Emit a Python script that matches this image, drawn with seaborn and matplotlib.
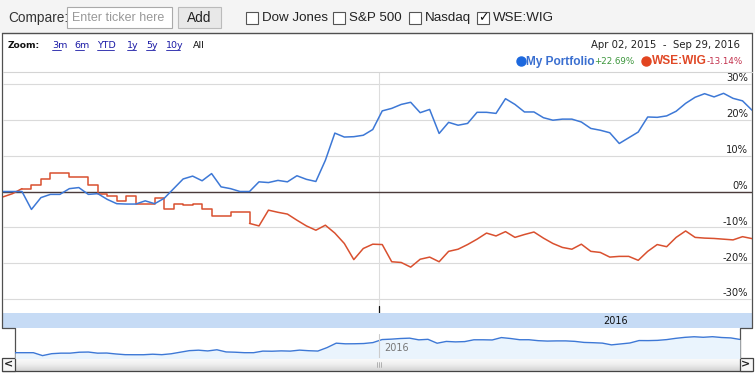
import numpy as np
import pandas as pd
import matplotlib
matplotlib.use('Agg')
import matplotlib.pyplot as plt
import seaborn as sns
from matplotlib.patches import Rectangle
from matplotlib.colors import LinearSegmentedColormap

# weekly samples, Apr 02 2015 - Sep 29 2016
start_date = '2015-04-02'
end_date = '2016-09-29'
n_points = 80

# My Portfolio, % change
portfolio = [0.0, 0.0, 0.0, -5.0, -1.7, -0.8, -0.8, 0.8, 1.1, -0.8,
             -0.6, -2.2, -3.4, -3.5, -3.5, -2.6, -3.4, -1.9, 0.8, 3.5,
             4.3, 3.0, 5.0, 1.3, 0.8, 0.0, 0.0, 2.7, 2.5, 3.1,
             2.7, 4.4, 3.4, 2.8, 8.7, 16.3, 15.2, 15.3, 15.7, 17.3,
             22.5, 23.2, 24.3, 24.9, 22.0, 22.9, 16.2, 19.3, 18.5, 19.0,
             22.1, 22.1, 21.8, 25.9, 24.3, 22.2, 22.2, 20.6, 19.9, 20.2,
             20.2, 19.4, 17.6, 17.1, 16.4, 13.4, 15.0, 16.6, 20.8, 20.7,
             21.1, 22.4, 24.6, 26.3, 27.3, 26.4, 27.4, 26.0, 25.3, 22.69]

# WSE:WIG, % change
wig = [-1.5, -0.6, 0.8, 1.7, 3.6, 5.2, 5.2, 4.1, 4.1, 1.7,
       -0.7, -1.2, -2.7, -1.2, -3.4, -3.5, -1.9, -5.0, -3.4, -3.9,
       -3.6, -5.0, -6.7, -6.9, -5.7, -5.8, -8.9, -9.6, -5.2, -5.8,
       -6.3, -8.0, -9.6, -10.8, -9.4, -11.6, -14.5, -19.0, -15.9, -14.7,
       -14.8, -19.6, -19.8, -21.1, -18.9, -18.3, -19.6, -16.7, -16.1, -14.8,
       -13.3, -11.6, -12.4, -11.2, -12.8, -12.0, -11.3, -13.0, -14.5, -15.6,
       -16.1, -14.7, -16.7, -17.0, -18.3, -18.1, -18.1, -19.2, -16.7, -14.8,
       -15.4, -12.8, -11.0, -12.8, -13.0, -13.1, -13.3, -13.5, -12.6, -13.14]
# the WIG line is drawn as a staircase over this stretch of weeks
wig_step_from, wig_step_to = 2, 26

y_ticks = [30, 20, 10, 0, -10, -20, -30]
zoom_links = ['3m', '6m', 'YTD', '1y', '5y', '10y']
compare_boxes = ['Dow Jones', 'S&P 500', 'Nasdaq', 'WSE:WIG']
compare_checked = [False, False, False, True]
date_range_text = 'Apr 02, 2015  -  Sep 29, 2016'
legend_names = ['My Portfolio', 'WSE:WIG']
legend_changes = ['+22.69%', '-13.14%']

blue = '#3d78d6'
red = '#d9502f'

dates = pd.date_range(start_date, end_date, periods=n_points)
df = pd.DataFrame({'date': dates, 'portfolio': portfolio, 'wig': wig})

sns.set_style('white')
plt.rcParams['font.family'] = ['DejaVu Sans']

W, H = 755, 378
fig = plt.figure(figsize=(7.55, 3.78), dpi=100)


def box(x0, y0, x1, y1):
    return [x0 / W, 1 - y1 / H, (x1 - x0) / W, (y1 - y0) / H]


# background / chrome in pixel coordinates
bg = fig.add_axes([0, 0, 1, 1], zorder=0)
bg.set_xlim(0, W)
bg.set_ylim(H, 0)
bg.axis('off')

bg.add_patch(Rectangle((0, 0), W, 33, fc='#f4f4f4', ec='none'))
frame_col = '#505050'
bg.plot([2, 2, 15, 15], [33, 328, 328, 358], color=frame_col, lw=0.9)
bg.plot([752, 752, 740, 740], [33, 328, 328, 358], color=frame_col, lw=0.9)
bg.plot([2, 752], [33, 33], color=frame_col, lw=1.0)

# compare toolbar
arial = 'Liberation Sans'
bg.text(8, 18, 'Compare:', family=arial, fontsize=9.8, color='#333333', va='center')
bg.add_patch(Rectangle((67, 7), 105, 21, fc='white', ec='#aaaaaa', lw=0.8))
bg.text(72, 18, 'Enter ticker here', family=arial, fontsize=9, color='#999999', va='center')
bg.add_patch(Rectangle((178, 7), 43, 21, fc='#e8e8e8', ec='#bbbbbb', lw=0.8))
bg.text(199.5, 18, 'Add', family=arial, fontsize=9.8, color='#222222', va='center', ha='center')
box_x = [246, 333, 409, 477]
for name, checked, bx in zip(compare_boxes, compare_checked, box_x):
    bg.add_patch(Rectangle((bx, 11.5), 12, 12, fc='white', ec='#555555', lw=0.8))
    bg.text(bx + 16, 18, name, family=arial, fontsize=9.6, color='#222222', va='center')
    if checked:
        bg.text(bx + 6, 18, '\u2713', fontsize=9, fontweight='bold', color='#111111',
                ha='center', va='center')

# zoom links
bg.text(8, 45.5, 'Zoom:', fontsize=6.6, fontweight='bold', color='#111111', va='center')
link_x = [52, 74.5, 97, 127, 146, 166]
for lab, lx in zip(zoom_links, link_x):
    bg.text(lx, 45.5, lab, fontsize=6.8, color='#1a1aa6', va='center')
    bg.plot([lx, lx + 4.7 * len(lab) + (3 if lab == 'YTD' else 0)], [50, 50],
            color='#1a1aa6', lw=0.6)
bg.text(193, 45.5, 'All', fontsize=6.8, color='#111111', va='center')

# date range and legend
bg.text(740, 45.5, date_range_text, fontsize=7.3, color='#222222', ha='right', va='center')
bg.plot(521, 61, 'o', ms=6.5, color='#1c68de')
bg.text(525.5, 61.5, legend_names[0], family=arial, fontsize=8.6, fontweight='bold',
        color='#3a6fd0', va='center')
bg.text(594.5, 61.5, legend_changes[0], fontsize=6.3, color='#3c963c', va='center')
bg.plot(646, 61, 'o', ms=6.5, color='#e2441f')
bg.text(651.5, 61.5, legend_names[1], family=arial, fontsize=8.6, fontweight='bold',
        color='#e04826', va='center')
bg.text(707, 61.5, legend_changes[1], fontsize=6.3, color='#c2304c', va='center')

# year band
bg.add_patch(Rectangle((2.5, 313), 749, 15, fc='#c6dbf5', ec='none'))
bg.text(616, 320.5, '2016', fontsize=7, color='#111111', ha='center', va='center')

# scrollbar
grad = np.linspace(0, 1, 30).reshape(-1, 1)
scroll_cmap = LinearSegmentedColormap.from_list('scroll', ['#fbfbfb', '#eeeeee', '#d2d2d2'])
bg.imshow(grad, extent=(15, 740, 371, 358), aspect='auto', cmap=scroll_cmap, zorder=1)
bg.set_xlim(0, W)
bg.set_ylim(H, 0)
bg.plot([2, 752], [371, 371], color='#444444', lw=0.9, zorder=2)
for x0 in (2, 740):
    bg.add_patch(Rectangle((x0, 358), 12.5, 13, fc='#f7f7f7', ec='#444444', lw=0.9, zorder=2))
bg.text(8.5, 364.5, '<', fontsize=8, fontweight='bold', color='#222222', ha='center',
        va='center', zorder=3)
bg.text(746, 364.5, '>', fontsize=8, fontweight='bold', color='#222222', ha='center',
        va='center', zorder=3)
for gx in (377, 379, 381):
    bg.plot([gx, gx], [362, 367], color='#999999', lw=0.5, zorder=3)

# main chart
ax = fig.add_axes(box(3, 72, 752, 313), zorder=1)
ax.set_facecolor('none')
sns.lineplot(data=df, x='date', y='portfolio', ax=ax, color=blue, lw=1.1,
             estimator=None, zorder=4)
sns.lineplot(data=df.iloc[:wig_step_from + 1], x='date', y='wig', ax=ax, color=red,
             lw=1.1, estimator=None, zorder=3)
sns.lineplot(data=df.iloc[wig_step_from:wig_step_to + 1], x='date', y='wig', ax=ax,
             color=red, lw=1.1, estimator=None, drawstyle='steps-post', zorder=3)
sns.lineplot(data=df.iloc[wig_step_to:], x='date', y='wig', ax=ax, color=red, lw=1.1,
             estimator=None, zorder=3)
ax.set_xlim(dates[0], dates[-1])
ax.set_ylim(-33.9, 33.35)
ax.set_yticks(y_ticks)
ax.set_xticks([])
ax.grid(axis='y', color='#dadada', lw=0.8)
ax.tick_params(length=0, labelleft=False, labelbottom=False)
ax.set_xlabel('')
ax.set_ylabel('')
for side in ('left', 'right', 'bottom'):
    ax.spines[side].set_visible(False)
ax.spines['top'].set_color('#d4d4d4')
ax.spines['top'].set_linewidth(0.8)
ax.axhline(0, color='#4b3b3b', lw=1.0, zorder=2)
new_year = pd.Timestamp('2016-01-01')
ax.axvline(new_year, color='#dddddd', lw=0.8, zorder=1)
ax.axvline(new_year, ymin=0, ymax=0.028, color='#111111', lw=0.9, zorder=2)
for v in y_ticks:
    ax.annotate(f'{v}%', xy=(1, v), xycoords=('axes fraction', 'data'),
                xytext=(-3, 4), textcoords='offset points', ha='right', va='center',
                fontsize=7.2, color='#222222', zorder=5)

# navigator
nav = fig.add_axes(box(15, 328, 740, 358), zorder=1)
nav.set_facecolor('none')
nav.fill_between(df['date'], df['portfolio'], -20, color='#eaf4fd', lw=0)
sns.lineplot(data=df, x='date', y='portfolio', ax=nav, color=blue, lw=1.0, estimator=None)
nav.set_xlim(dates[0], dates[-1])
nav.set_ylim(-9.1, 42.3)
quarters = pd.to_datetime(['2015-04-08', '2015-07-01', '2015-10-01', '2016-04-01', '2016-07-01'])
nav.set_xticks(quarters)
nav.tick_params(axis='x', direction='in', length=4, color='#c8c8c8', labelbottom=False, pad=0)
nav.set_yticks([])
nav.set_xlabel('')
nav.set_ylabel('')
for side in ('left', 'right', 'top', 'bottom'):
    nav.spines[side].set_visible(False)
nav.axvline(new_year, ymin=0, ymax=0.8, color='#cccccc', lw=0.8)
nav.annotate('2016', xy=(new_year, 0), xycoords=('data', 'axes fraction'),
             xytext=(4, 7.5), textcoords='offset points', ha='left', va='center',
             fontsize=7, color='#777777')

fig.savefig('out.png', dpi=100)
